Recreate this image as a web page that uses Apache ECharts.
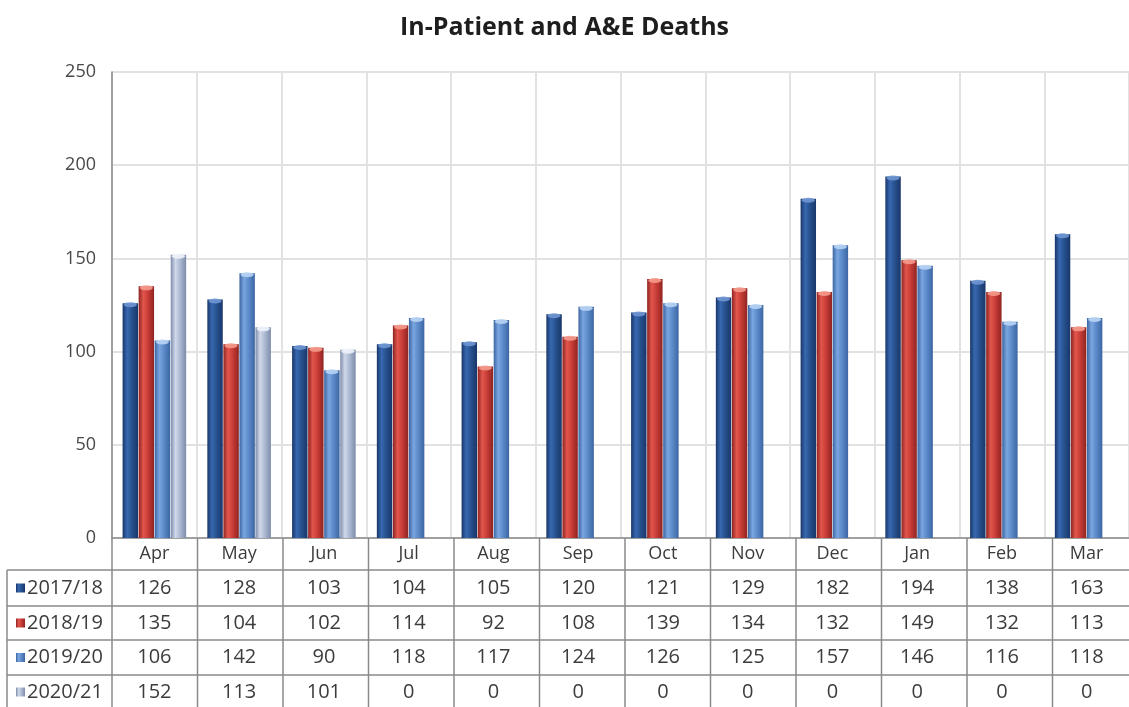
<!DOCTYPE html>
<html>
<head>
<meta charset="utf-8">
<script src="https://cdn.jsdelivr.net/npm/echarts@6/dist/echarts.min.js"></script>
<style>
  html, body { margin: 0; padding: 0; background: #ffffff; }
  #chart { width: 1129px; height: 707px; }
</style>
</head>
<body>
<div id="chart"></div>
<script>
// Monthly in-patient and A&E deaths by financial year
const months = ['Apr', 'May', 'Jun', 'Jul', 'Aug', 'Sep', 'Oct', 'Nov', 'Dec', 'Jan', 'Feb', 'Mar'];
const seasons = ['2017/18', '2018/19', '2019/20', '2020/21'];
const deaths1718 = [126, 128, 103, 104, 105, 120, 121, 129, 182, 194, 138, 163];
const deaths1819 = [135, 104, 102, 114, 92, 108, 139, 134, 132, 149, 132, 113];
const deaths1920 = [106, 142, 90, 118, 117, 124, 126, 125, 157, 146, 116, 118];
const deaths2021 = [152, 113, 101, 0, 0, 0, 0, 0, 0, 0, 0, 0];
const yTicks = [0, 50, 100, 150, 200, 250];

const seriesValues = [deaths1718, deaths1819, deaths1920, deaths2021];

// cylinder-like shading for each year: edge, highlight, body, top cap
const palette = [
  { edge: '#19366a', light: '#3868b0', mid: '#26508c', cap: '#6f96d2' },
  { edge: '#8e2422', light: '#e2564c', mid: '#c63b35', cap: '#f49a8c' },
  { edge: '#3c66a3', light: '#7aa6e0', mid: '#5a88c8', cap: '#b8d4f4' },
  { edge: '#7e8cab', light: '#d0d9ea', mid: '#aab7d0', cap: '#eef2f8' }
];

const FONT = '"Open Sans", "Noto Sans", sans-serif';
const TEXT_COLOR = '#3c3c3c';
const TABLE_LINE = '#8a8a8a';

const GRID_LEFT = 112;
const GRID_TOP = 72;
const GRID_WIDTH = 1026;
const GRID_HEIGHT = 466;

const chart = echarts.init(document.getElementById('chart'), null, { renderer: 'canvas' });

function barGradient(p) {
  return new echarts.graphic.LinearGradient(0, 0, 1, 0, [
    { offset: 0, color: p.edge },
    { offset: 0.3, color: p.light },
    { offset: 0.62, color: p.mid },
    { offset: 1, color: p.edge }
  ]);
}

const barSeries = seriesValues.map((vals, i) => ({
  name: seasons[i],
  type: 'bar',
  data: vals,
  barGap: '4%',
  barCategoryGap: '25%',
  itemStyle: { color: barGradient(palette[i]) },
  z: 2
}));

const capSeries = seriesValues.map((vals, i) => ({
  name: seasons[i] + ' cap',
  type: 'pictorialBar',
  data: vals.map(v => (v > 0 ? v : '-')),
  barGap: '4%',
  barCategoryGap: '25%',
  symbol: 'circle',
  symbolSize: ['84%', 5],
  symbolPosition: 'end',
  symbolOffset: [0, '-20%'],
  itemStyle: { color: palette[i].cap, opacity: 0.9 },
  z: 3,
  silent: true
}));

chart.setOption({
  animation: false,
  backgroundColor: '#ffffff',
  title: {
    text: 'In-Patient and A&E Deaths',
    left: 'center',
    top: 10,
    textStyle: { fontFamily: FONT, fontSize: 25, fontWeight: 'bold', color: '#1e1e1e' }
  },
  grid: { left: GRID_LEFT, top: GRID_TOP, width: GRID_WIDTH, height: GRID_HEIGHT },
  xAxis: {
    type: 'category',
    data: months,
    boundaryGap: true,
    axisLine: { show: true, lineStyle: { color: TABLE_LINE, width: 1.5 } },
    axisTick: { show: false },
    axisLabel: {
      color: TEXT_COLOR, fontFamily: FONT, fontSize: 18,
      margin: 16, verticalAlign: 'middle', interval: 0
    },
    splitLine: { show: true, interval: 0, lineStyle: { color: '#e2e2e2', width: 2 } }
  },
  yAxis: {
    type: 'value',
    min: yTicks[0],
    max: yTicks[yTicks.length - 1],
    interval: yTicks[1] - yTicks[0],
    axisLine: { show: true, lineStyle: { color: '#8a8a8a', width: 1.5 } },
    axisTick: { show: false },
    axisLabel: { color: '#484848', fontFamily: FONT, fontSize: 18, margin: 16 },
    splitLine: { show: true, lineStyle: { color: '#e2e2e2', width: 2 } }
  },
  series: barSeries.concat(capSeries)
});

// Data table under the plot, laid out on the category axis
function buildTable() {
  const zeroY = chart.convertToPixel({ yAxisIndex: 0 }, 0);
  const band = GRID_WIDTH / months.length;
  const centers = months.map(m => chart.convertToPixel({ xAxisIndex: 0 }, m));
  const rightX = GRID_LEFT + GRID_WIDTH;
  const tableLeft = 7;
  const rowTops = [zeroY + 32, zeroY + 68, zeroY + 102, zeroY + 137];
  const bottomY = zeroY + 175;
  const els = [];

  const line = (x1, y1, x2, y2) => els.push({
    type: 'line',
    shape: { x1, y1, x2, y2 },
    style: { stroke: TABLE_LINE, lineWidth: 1.5 },
    silent: true
  });

  // horizontal rules
  rowTops.forEach(y => line(tableLeft, y, rightX, y));
  // vertical rules at category boundaries
  for (let i = 0; i <= months.length; i++) {
    const x = GRID_LEFT + i * band;
    line(x, zeroY, x, bottomY);
  }
  line(tableLeft, rowTops[0], tableLeft, bottomY);

  seasons.forEach((name, r) => {
    const top = rowTops[r];
    const bottom = r + 1 < rowTops.length ? rowTops[r + 1] : bottomY - 4;
    const cy = (top + bottom) / 2;
    // legend key
    els.push({
      type: 'rect',
      shape: { x: 16, y: cy - 4.5, width: 9, height: 9 },
      style: { fill: barGradient(palette[r]) },
      silent: true
    });
    els.push({
      type: 'text', x: 27, y: cy,
      style: { text: name, fill: TEXT_COLOR, font: '20px ' + FONT, align: 'left', verticalAlign: 'middle' },
      silent: true
    });
    seriesValues[r].forEach((v, c) => {
      els.push({
        type: 'text', x: centers[c], y: cy,
        style: { text: String(v), fill: TEXT_COLOR, font: '20px ' + FONT, align: 'center', verticalAlign: 'middle' },
        silent: true
      });
    });
  });

  chart.setOption({ graphic: { elements: els } });
}

buildTable();
</script>
</body>
</html>
